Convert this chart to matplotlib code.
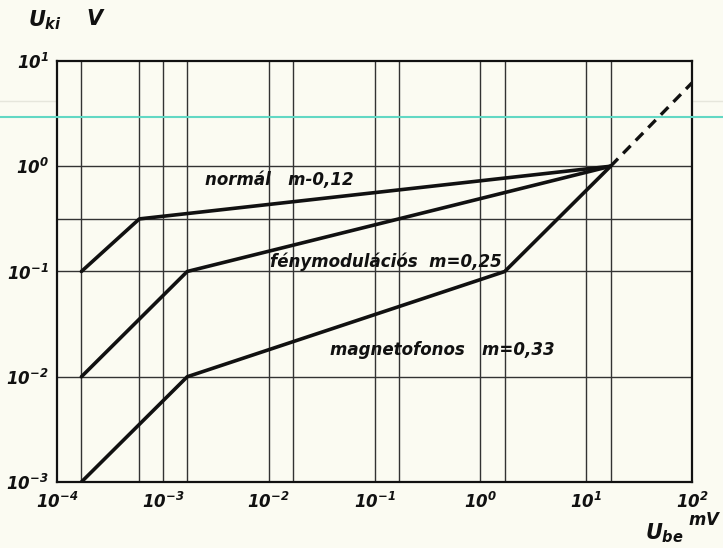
import matplotlib
matplotlib.use("Agg")
import matplotlib.pyplot as plt
from matplotlib.lines import Line2D

plt.rcParams['mathtext.fontset'] = 'custom'
plt.rcParams['mathtext.rm'] = 'DejaVu Sans:italic:bold'
plt.rcParams['mathtext.it'] = 'DejaVu Sans:italic:bold'
plt.rcParams['mathtext.bf'] = 'DejaVu Sans:italic:bold'

# break points (U_be in mV, U_ki in V)
normal_x = [1.7e-4, 6e-4, 17]
normal_y = [0.1, 0.316, 1.0]
feny_x = [1.7e-4, 1.7e-3, 17]
feny_y = [0.01, 0.1, 1.0]
magneto_x = [1.7e-4, 1.7e-3, 1.7, 17]
magneto_y = [0.001, 0.01, 0.1, 1.0]
dash_x = [17, 100]
dash_y = [1.0, 6.2]

xticks = [1e-4, 1e-3, 1e-2, 1e-1, 1e0, 1e1, 1e2]
xticklabels = [r'$10^{-4}$', r'$10^{-3}$', r'$10^{-2}$', r'$10^{-1}$',
               r'$10^{0}$', r'$10^{1}$', r'$10^{2}$']
yticks = [1e-3, 1e-2, 1e-1, 1e0, 1e1]
yticklabels = [r'$10^{-3}$', r'$10^{-2}$', r'$10^{-1}$', r'$10^{0}$', r'$10^{1}$']
xgrid = [1.7e-4, 6e-4, 1e-3, 1.7e-3, 1e-2, 1.7e-2, 1e-1, 1.7e-1, 1, 1.7, 10, 17]
ygrid = [1e-2, 1e-1, 0.316, 1]

W, H = 723, 548
paper = '#fbfbf2'
ink = '#111111'

fig = plt.figure(figsize=(W / 100, H / 100), dpi=100, facecolor=paper)
ax = fig.add_axes([57 / W, 1 - 482 / H, (692 - 57) / W, (482 - 61) / H])
ax.set_facecolor(paper)
ax.set_xscale('log')
ax.set_yscale('log')
ax.set_xlim(1e-4, 1e2)
ax.set_ylim(1e-3, 1e1)

for gx in xgrid:
    ax.axvline(gx, color='#333333', lw=1.0, zorder=1)
for gy in ygrid:
    ax.axhline(gy, color='#333333', lw=1.0, zorder=1)

for xs, ys in [(normal_x, normal_y), (feny_x, feny_y), (magneto_x, magneto_y)]:
    ax.plot(xs, ys, color=ink, lw=2.6, solid_capstyle='round', zorder=3)
ax.plot(dash_x, dash_y, color=ink, lw=2.4, dashes=(3.2, 2.2), zorder=3)

ax.set_xticks(xticks)
ax.set_xticklabels(xticklabels)
ax.set_yticks(yticks)
ax.set_yticklabels(yticklabels)
ax.minorticks_off()
ax.tick_params(length=0, labelsize=12, colors=ink)
ax.tick_params(axis='x', pad=7)
ax.tick_params(axis='y', pad=6)
for s in ax.spines.values():
    s.set_linewidth(1.6)
    s.set_color(ink)

lab = dict(fontsize=13.3, fontweight='bold', fontstyle='italic',
           fontstretch='condensed', color=ink, va='center', ha='left')
ax.text(2.5e-3, 0.74, 'normál   m-0,12', **lab)
ax.text(1.03e-2, 0.123, 'fénymodulációs  m=0,25', **lab)
ax.text(3.8e-2, 0.018, 'magnetofonos   m=0,33', **lab)

# axis titles written on the sheet
fig.text(28 / W, 1 - 20 / H, r'$U_{ki}$', fontsize=15, color=ink, va='center')
fig.text(86 / W, 1 - 19 / H, r'$V$', fontsize=15, color=ink, va='center')
fig.text(645 / W, 1 - 533 / H, r'$U_{be}$', fontsize=15, color=ink, va='center')
fig.text(688 / W, 1 - 520 / H, r'$mV$', fontsize=12, color=ink, va='center')

# scanner streaks
fig.add_artist(Line2D([0, 1], [1 - 117 / H] * 2, color='#62d8c4', lw=1.5))
fig.add_artist(Line2D([0, 1], [1 - 101 / H] * 2, color='#e6e6dc', lw=1.0,
                      zorder=0))

fig.savefig('out.png', dpi=100, facecolor=paper)
